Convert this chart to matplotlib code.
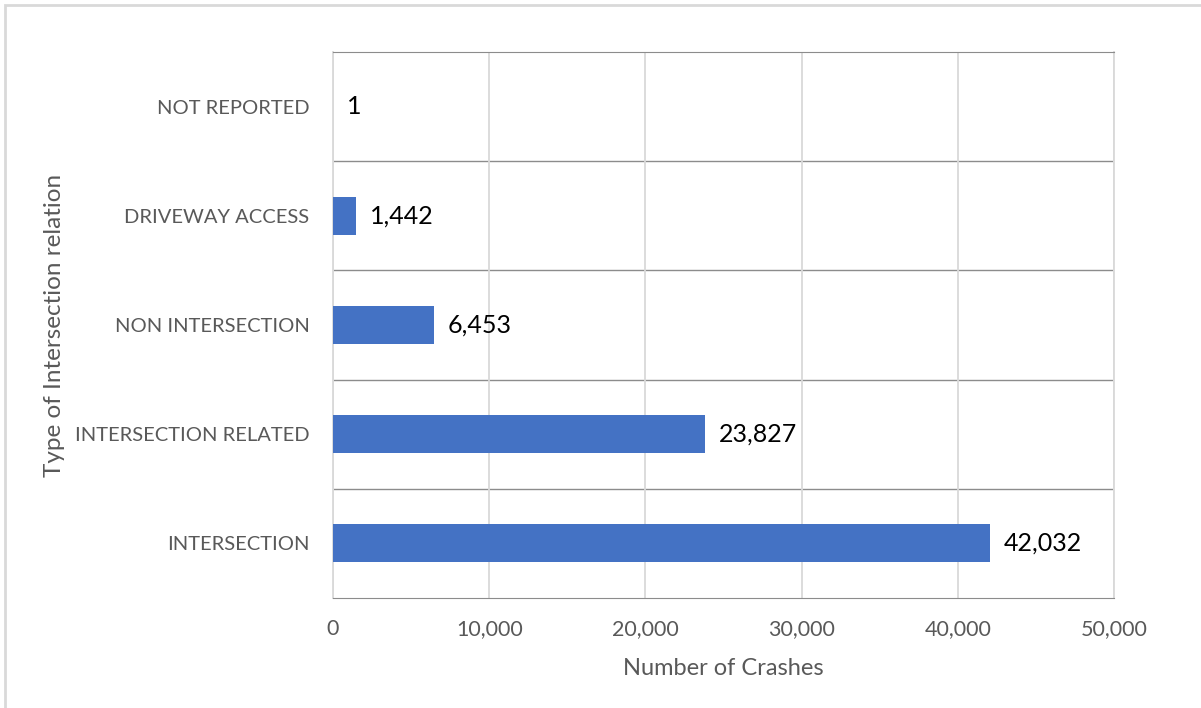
import matplotlib.pyplot as plt
from matplotlib.patches import Rectangle

categories = ['INTERSECTION', 'INTERSECTION RELATED', 'NON INTERSECTION',
              'DRIVEWAY ACCESS', 'NOT REPORTED']
crashes = [42032, 23827, 6453, 1442, 1]
xticks = [0, 10000, 20000, 30000, 40000, 50000]

plt.rcParams['font.family'] = ['Lato', 'DejaVu Sans']

fig = plt.figure(figsize=(12.01, 7.08), dpi=100)
ax = fig.add_axes([0.2773, 0.1554, 0.6503, 0.7712])

# outer chart frame (runs off the right and bottom edges)
fig.patches.append(Rectangle((5 / 1201, -10 / 708), 1210 / 1201, 713 / 708,
                             transform=fig.transFigure, fill=False,
                             edgecolor='#d9d9d9', linewidth=2))

ypos = range(len(categories))
bars = ax.barh(ypos, crashes, height=0.35, color='#4472c4', zorder=3)

ax.set_xlim(0, 50000)
ax.set_ylim(-0.5, len(categories) - 0.5)
ax.set_xticks(xticks)
ax.set_xticklabels([f'{v:,}' for v in xticks])
ax.set_yticks(list(ypos))
ax.set_yticklabels(categories)

# vertical gridlines light, category separators darker
ax.grid(axis='x', color='#d9d9d9', linewidth=1.3, zorder=0)
for b in [i + 0.5 for i in range(len(categories) - 1)]:
    ax.axhline(b, color='#8c8c8c', linewidth=1, zorder=1)

ax.spines['top'].set_color('#8c8c8c')
ax.spines['bottom'].set_color('#8c8c8c')
for s in ['left', 'right']:
    ax.spines[s].set_color('#d9d9d9')
    ax.spines[s].set_linewidth(1.3)

ax.tick_params(length=0, colors='#595959')
ax.tick_params(axis='y', labelsize=14.5, pad=17)
ax.tick_params(axis='x', labelsize=15.5, pad=15)

for bar, v in zip(bars, crashes):
    ax.annotate(f'{v:,}', (bar.get_width(), bar.get_y() + bar.get_height() / 2),
                xytext=(14, 0), textcoords='offset pixels',
                va='center', ha='left', fontsize=18, color='black')

ax.set_xlabel('Number of Crashes', fontsize=17, color='#595959', labelpad=14)
ax.set_ylabel('Type of Intersection relation', fontsize=17.5, color='#595959', labelpad=7)

fig.savefig('out.png', dpi=100)
